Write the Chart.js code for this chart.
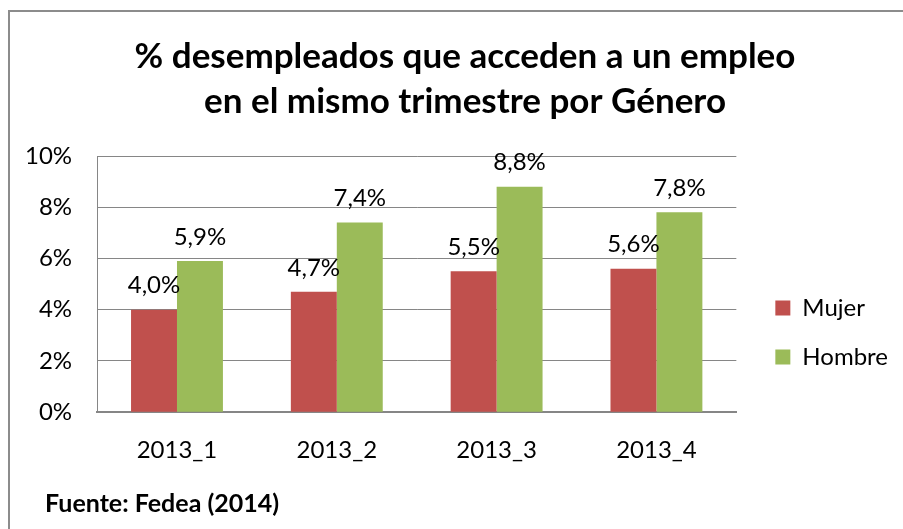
<!DOCTYPE html>
<html>
<head>
<meta charset="utf-8">
<script src="https://cdn.jsdelivr.net/npm/chart.js@4/dist/chart.umd.min.js"></script>
<style>
  html, body { margin: 0; padding: 0; background: #fff; }
  #frame { position: relative; width: 903px; height: 529px; }
  #frame:before {
    content: ''; position: absolute; left: 8px; top: 10px; right: 0; bottom: 0;
    border-top: 2px solid #8c8c8c; border-left: 2px solid #8c8c8c;
  }
  canvas { position: absolute; left: 0; top: 0; }
</style>
</head>
<body>
<div id="frame"><canvas id="chart" width="903" height="529"></canvas></div>
<script>
// data
const quarters = ['2013_1', '2013_2', '2013_3', '2013_4'];
const mujer = [4.0, 4.7, 5.5, 5.6];
const hombre = [5.9, 7.4, 8.8, 7.8];
const titleLines = ['% desempleados que acceden a un empleo', 'en el mismo trimestre por Género'];
const sourceNote = 'Fuente: Fedea (2014)';

const FONT = 'Lato, "Open Sans", sans-serif';

// value labels above each bar, Excel style "4,0%"
const barLabels = {
  id: 'barLabels',
  afterDatasetsDraw(chart) {
    const ctx = chart.ctx;
    ctx.save();
    ctx.font = '24px ' + FONT;
    ctx.fillStyle = '#000';
    ctx.textAlign = 'center';
    ctx.textBaseline = 'bottom';
    chart.data.datasets.forEach((ds, i) => {
      chart.getDatasetMeta(i).data.forEach((bar, j) => {
        const txt = ds.data[j].toFixed(1).replace('.', ',') + '%';
        ctx.fillText(txt, bar.x, bar.y - 12);
      });
    });
    ctx.restore();
  }
};

// two line title and source note
const headerFooter = {
  id: 'headerFooter',
  afterDraw(chart) {
    const ctx = chart.ctx;
    ctx.save();
    ctx.fillStyle = '#000';
    ctx.textAlign = 'center';
    ctx.textBaseline = 'middle';
    ctx.font = 'bold 35px ' + FONT;
    ctx.fillText(titleLines[0], 465, 57);
    ctx.fillText(titleLines[1], 465, 102);
    ctx.textAlign = 'left';
    ctx.font = 'bold 25px ' + FONT;
    ctx.fillText(sourceNote, 45, 504);
    ctx.restore();
  }
};

new Chart(document.getElementById('chart').getContext('2d'), {
  type: 'bar',
  data: {
    labels: quarters,
    datasets: [
      {
        label: 'Mujer',
        data: mujer,
        backgroundColor: '#C0504D',
        categoryPercentage: 0.575,
        barPercentage: 1
      },
      {
        label: 'Hombre',
        data: hombre,
        backgroundColor: '#9BBB59',
        categoryPercentage: 0.575,
        barPercentage: 1
      }
    ]
  },
  options: {
    responsive: false,
    animation: false,
    layout: {
      padding: { top: 156, bottom: 40, left: 0, right: 5 }
    },
    plugins: {
      legend: {
        position: 'right',
        fullSize: false,
        title: { display: true, text: ' ', font: { size: 10 }, padding: { top: 85, bottom: 0 } },
        labels: {
          boxWidth: 15,
          boxHeight: 15,
          padding: 25,
          color: '#000',
          font: { family: FONT, size: 24 }
        }
      },
      title: { display: false },
      tooltip: { enabled: false }
    },
    scales: {
      x: {
        grid: { display: false, drawTicks: false },
        border: { color: '#868686', width: 2 },
        ticks: { color: '#000', padding: 24, font: { family: FONT, size: 24 } }
      },
      y: {
        min: 0,
        max: 10,
        grid: { color: '#868686', lineWidth: 1, drawTicks: false },
        border: { color: '#868686', width: 1 },
        ticks: {
          stepSize: 2,
          padding: 25,
          color: '#000',
          font: { family: FONT, size: 24 },
          callback: (v) => v + '%'
        }
      },
      // empty spacer between plot and legend
      gap: {
        type: 'linear',
        position: 'right',
        grid: { display: false },
        border: { display: false },
        ticks: { display: false },
        afterFit(scale) { scale.width = 14; }
      }
    }
  },
  plugins: [barLabels, headerFooter]
});
</script>
</body>
</html>
